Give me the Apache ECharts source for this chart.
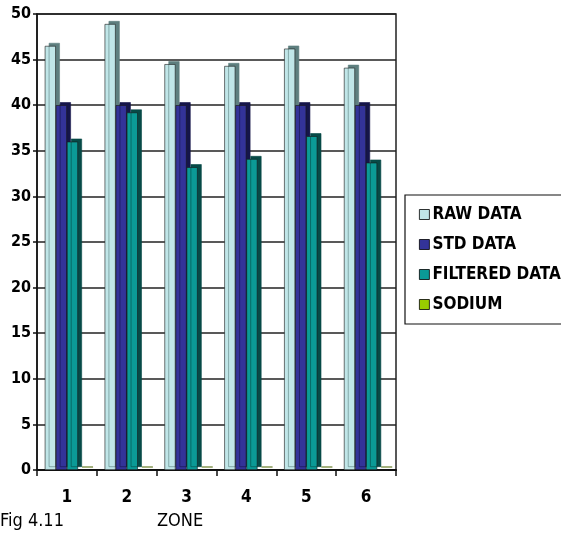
<!DOCTYPE html>
<html>
<head>
<meta charset="utf-8">
<script src="https://cdn.jsdelivr.net/npm/echarts@6/dist/echarts.min.js"></script>
<style>html,body{margin:0;padding:0;background:#fff;}#c{width:561px;height:537px;}</style>
</head>
<body>
<div id="c"></div>
<script>
var categories = ['1', '2', '3', '4', '5', '6'];
var rawData = [46.5, 48.9, 44.5, 44.3, 46.2, 44.1];
var stdData = [40, 40, 40, 40, 40, 40];
var filteredData = [36.0, 39.2, 33.2, 34.1, 36.6, 33.7];
var sodiumData = [0, 0, 0, 0, 0, 0];
var seriesNames = ['RAW DATA', 'STD DATA', 'FILTERED DATA', 'SODIUM'];
var yTicks = [0, 5, 10, 15, 20, 25, 30, 35, 40, 45, 50];

var FONT = '"Liberation Sans Narrow", "DejaVu Sans Condensed", "Arial Narrow", "Liberation Sans", sans-serif';

function barSeries(name, data, color, side) {
  return {
    name: name,
    type: 'bar',
    data: data,
    barGap: '0%',
    barCategoryGap: '26%',
    itemStyle: {
      color: color,
      borderColor: '#1a1a1a',
      borderWidth: 0.6,
      shadowColor: side,
      shadowBlur: 0,
      shadowOffsetX: 4,
      shadowOffsetY: -3
    },
    emphasis: { disabled: true },
    animation: false
  };
}

var chart = echarts.init(document.getElementById('c'), null, { renderer: 'canvas' });
chart.setOption({
  backgroundColor: '#ffffff',
  animation: false,
  grid: {
    left: 37, right: 165, top: 14, bottom: 67,
    show: true, borderColor: '#222', borderWidth: 1.5, backgroundColor: 'transparent'
  },
  legend: {
    orient: 'vertical',
    left: 405,
    top: 195,
    data: seriesNames,
    backgroundColor: '#fff',
    borderColor: '#111',
    borderWidth: 1.2,
    padding: [11, 60, 11, 14],
    itemWidth: 10,
    itemHeight: 10,
    itemGap: 13,
    selectedMode: false,
    icon: 'rect',
    itemStyle: { borderColor: '#000', borderWidth: 0.8, shadowBlur: 0, shadowOffsetX: 0, shadowOffsetY: 0, shadowColor: 'rgba(0,0,0,0)' },
    textStyle: { fontFamily: FONT, fontWeight: 'bold', fontSize: 17, color: '#000', padding: [0, 0, 0, -2] }
  },
  xAxis: {
    type: 'category',
    data: categories,
    axisLine: { show: true, lineStyle: { color: '#111', width: 2 } },
    axisTick: { show: true, length: 6, lineStyle: { color: '#111', width: 1.5 } },
    axisLabel: { fontFamily: FONT, fontWeight: 'bold', fontSize: 17, color: '#000', margin: 19 },
    splitLine: { show: false }
  },
  yAxis: {
    type: 'value',
    min: 0, max: 50, interval: 5,
    axisLine: { show: true, lineStyle: { color: '#111', width: 1.5 } },
    axisTick: { show: true, length: 4, lineStyle: { color: '#111', width: 1.5 } },
    axisLabel: {
      fontFamily: FONT, fontWeight: 'bold', fontSize: 16, color: '#000', margin: 6,
      formatter: function (v) { return yTicks.indexOf(v) >= 0 ? String(v) : ''; }
    },
    splitLine: { show: true, lineStyle: { color: '#222', width: 1.5 } }
  },
  series: [
    barSeries(seriesNames[0], rawData, '#c0e6e8', '#5e7f7f'),
    barSeries(seriesNames[1], stdData, '#333399', '#15154a'),
    barSeries(seriesNames[2], filteredData, '#0b9a96', '#074a47'),
    barSeries(seriesNames[3], sodiumData, '#99cc00', '#4a6600')
  ],
  graphic: [
    { type: 'text', left: 0, top: 512, style: { text: 'Fig 4.11', fontFamily: FONT, fontSize: 18, fill: '#000' } },
    { type: 'text', left: 157, top: 512, style: { text: 'ZONE', fontFamily: FONT, fontSize: 18, fill: '#000' } }
  ]
});
</script>
</body>
</html>
